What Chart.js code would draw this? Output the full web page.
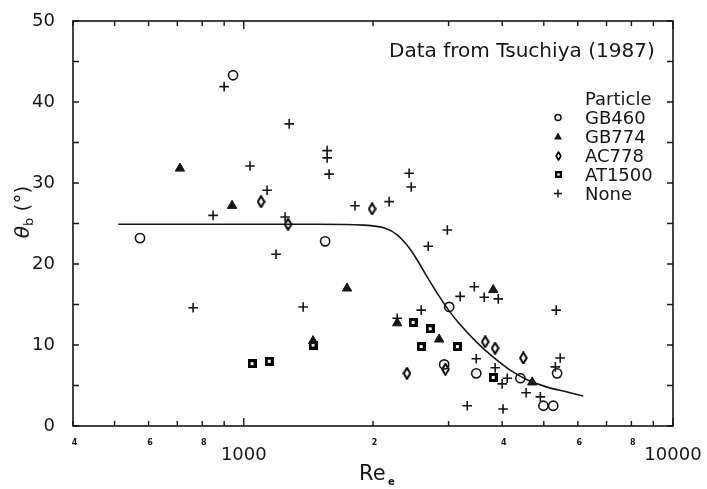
<!DOCTYPE html>
<html>
<head>
<meta charset="utf-8">
<script src="https://cdn.jsdelivr.net/npm/chart.js@4.4.0/dist/chart.umd.min.js"></script>
<style>
  body { margin: 0; background: #fff; }
</style>
</head>
<body>
<canvas id="myChart" width="707" height="489"></canvas>
<script>
const ink = "#161616";
const font = "'DejaVu Sans', sans-serif";

// data (Re_e, theta_b in degrees)
const gb460X = [573, 944, 1547, 2930, 3010, 3480, 4410, 4990, 5260, 5370];
const gb460Y = [23.2, 43.3, 22.8, 7.6, 14.7, 6.5, 5.9, 2.5, 2.5, 6.5];

const gb774X = [710, 939, 1450, 1740, 2277, 2852, 3812, 4700];
const gb774Y = [31.8, 27.2, 10.5, 17.0, 12.7, 10.7, 16.8, 5.4];

const ac778X = [1097, 1268, 1990, 2400, 2950, 3650, 3850, 4480];
const ac778Y = [27.7, 24.9, 26.8, 6.5, 7.0, 10.4, 9.6, 8.4];

const at1500X = [1045, 1146, 1450, 2480, 2590, 2718, 3145, 3812];
const at1500Y = [7.7, 8.0, 10.0, 12.8, 9.8, 12.0, 9.8, 6.0];

const noneX = [762, 900, 1276, 1564, 1564, 1580, 1034, 1133, 848, 1248, 1816, 2181,
  2428, 2455, 2980, 2690, 1189, 1375, 2277, 2590, 3192, 3444, 3632, 3916, 5344,
  3480, 3852, 4000, 4110, 3316, 4018, 4548, 4908, 5320, 5460];
const noneY = [14.6, 41.9, 37.3, 34.0, 33.1, 31.1, 32.1, 29.1, 26.0, 25.8, 27.2, 27.7,
  31.2, 29.5, 24.2, 22.2, 21.2, 14.7, 13.3, 14.3, 16.0, 17.2, 15.9, 15.7, 14.3,
  8.3, 7.2, 5.2, 5.9, 2.5, 2.1, 4.1, 3.6, 7.3, 8.4];

// fitted curve
const curveX = [510, 900, 1500, 1900, 2136, 2277, 2402, 2535, 2674, 2822, 2992, 3158,
  3495, 3812, 4175, 4571, 5090, 5670, 6180];
const curveY = [24.9, 24.9, 24.9, 24.8, 24.4, 23.6, 22.3, 20.5, 18.4, 16.4, 14.4, 12.8,
  10.3, 8.5, 6.9, 5.7, 4.8, 4.2, 3.7];

const xTickValues = [400, 600, 800, 1000, 2000, 4000, 6000, 8000, 10000];
const xTickLabels = ["4", "6", "8", "1000", "2", "4", "6", "8", "10000"];
const xMarks = [400, 500, 600, 700, 800, 900, 1000, 2000, 3000, 4000, 5000, 6000, 7000, 8000, 9000, 10000];
const xMajor = [1000, 10000];

const legendNames = ["GB460", "GB774", "AC778", "AT1500", "None"];

function pts(xs, ys) {
  return xs.map((x, i) => ({ x, y: ys[i] }));
}

function diamondImg(w, h, lw) {
  const c = document.createElement("canvas");
  c.width = w; c.height = h;
  const g = c.getContext("2d");
  g.strokeStyle = "#000";
  g.lineWidth = lw;
  g.lineJoin = "round";
  g.beginPath();
  g.moveTo(w / 2, 1);
  g.lineTo(w - 1.2, h / 2);
  g.lineTo(w / 2, h - 1);
  g.lineTo(1.2, h / 2);
  g.closePath();
  g.stroke();
  return c;
}

function squareImg(s) {
  const c = document.createElement("canvas");
  c.width = s; c.height = s;
  const g = c.getContext("2d");
  g.fillStyle = "#000";
  g.fillRect(0, 0, s, s);
  g.fillStyle = "#fff";
  const k = s / 3;
  g.fillRect(k, k, s - 2 * k, s - 2 * k);
  return c;
}

const diamond = diamondImg(9, 13, 2);
const square = squareImg(9);
const diamondSmall = diamondImg(7, 10, 1.6);
const squareSmall = squareImg(7);

function drawText(ctx, str, x, y, f, align) {
  ctx.font = f;
  ctx.textAlign = align || "left";
  ctx.fillText(str, x, y);
}

const decorations = {
  id: "decorations",
  afterDraw(chart) {
    const { ctx, chartArea: a } = chart;
    const xs = chart.scales.x;
    const ys = chart.scales.y;
    ctx.save();
    ctx.strokeStyle = ink;
    ctx.fillStyle = ink;
    ctx.lineWidth = 1.6;
    ctx.strokeRect(a.left, a.top, a.right - a.left, a.bottom - a.top);

    ctx.lineWidth = 1.4;
    ctx.beginPath();
    xMarks.forEach(v => {
      const px = xs.getPixelForValue(v);
      const len = xMajor.includes(v) ? 8 : 5;
      ctx.moveTo(px, a.bottom); ctx.lineTo(px, a.bottom - len);
      ctx.moveTo(px, a.top); ctx.lineTo(px, a.top + len);
    });
    ys.ticks.forEach(t => {
      const py = ys.getPixelForValue(t.value);
      ctx.moveTo(a.left, py); ctx.lineTo(a.left + 6, py);
      ctx.moveTo(a.right, py); ctx.lineTo(a.right - 6, py);
    });
    ctx.stroke();

    // x tick labels
    ctx.textBaseline = "alphabetic";
    xTickValues.forEach((v, i) => {
      const px = xs.getPixelForValue(v);
      if (xMajor.includes(v)) {
        drawText(ctx, xTickLabels[i], px, a.bottom + 34, "18px " + font, "center");
      } else {
        drawText(ctx, xTickLabels[i], px + 1.5, a.bottom + 19, "bold 8px " + font, "center");
      }
    });

    // x title
    drawText(ctx, "Re", 359, 480, "21px " + font);
    drawText(ctx, "e", 388, 485, "bold 10px " + font);

    // y title
    ctx.save();
    ctx.translate(29, 212);
    ctx.rotate(-Math.PI / 2);
    const f1 = "italic 20px " + font, f2 = "13px " + font, f3 = "20px " + font;
    ctx.font = f1; const w1 = ctx.measureText("\u03b8").width;
    ctx.font = f2; const w2 = ctx.measureText("b").width;
    ctx.font = f3; const w3 = ctx.measureText(" (\u00b0)").width;
    let sx = -(w1 + w2 + w3) / 2;
    drawText(ctx, "\u03b8", sx, 0, f1); sx += w1;
    drawText(ctx, "b", sx, 4, f2); sx += w2;
    drawText(ctx, " (\u00b0)", sx, 0, f3);
    ctx.restore();

    // annotation
    ctx.font = "19px " + font;
    const note = "Data from Tsuchiya (1987)";
    const size = 19 * 266 / ctx.measureText(note).width;
    drawText(ctx, note, 389, 57, size.toFixed(2) + "px " + font);

    // legend
    drawText(ctx, "Particle", 585, 105, "18px " + font);
    const lx = 558;
    legendNames.forEach((name, i) => {
      const base = 124 + i * 19;
      const cy = base - 6.5;
      drawText(ctx, name, 585, base, "18px " + font);
      ctx.lineWidth = 1.5;
      if (i === 0) {
        ctx.beginPath(); ctx.arc(lx, cy, 3, 0, Math.PI * 2); ctx.stroke();
      } else if (i === 1) {
        ctx.beginPath(); ctx.moveTo(lx, cy - 4); ctx.lineTo(lx + 4, cy + 3); ctx.lineTo(lx - 4, cy + 3); ctx.closePath(); ctx.fill();
      } else if (i === 2) {
        ctx.drawImage(diamondSmall, Math.round(lx - 3.5), Math.round(cy - 5));
      } else if (i === 3) {
        ctx.drawImage(squareSmall, Math.round(lx - 3.5), Math.round(cy - 3.5));
      } else {
        ctx.beginPath();
        ctx.moveTo(lx - 4, cy); ctx.lineTo(lx + 4, cy);
        ctx.moveTo(lx, cy - 4); ctx.lineTo(lx, cy + 4);
        ctx.stroke();
      }
    });
    ctx.restore();
  }
};

const config = {
  type: "scatter",
  data: {
    datasets: [
      {
        label: "curve",
        data: pts(curveX, curveY),
        showLine: true,
        borderColor: ink,
        borderWidth: 1.6,
        pointRadius: 0,
        cubicInterpolationMode: "monotone",
      },
      {
        label: "GB460",
        data: pts(gb460X, gb460Y),
        pointStyle: "circle",
        pointRadius: 4.6,
        borderWidth: 1.6,
        borderColor: ink,
        backgroundColor: "rgba(255,255,255,0)",
      },
      {
        label: "GB774",
        data: pts(gb774X, gb774Y),
        pointStyle: "triangle",
        pointRadius: 5.4,
        borderWidth: 1,
        borderColor: ink,
        backgroundColor: ink,
      },
      {
        label: "AC778",
        data: pts(ac778X, ac778Y),
        pointStyle: diamond,
      },
      {
        label: "AT1500",
        data: pts(at1500X, at1500Y),
        pointStyle: square,
      },
      {
        label: "None",
        data: pts(noneX, noneY),
        pointStyle: "cross",
        pointRadius: 4.8,
        borderWidth: 1.6,
        borderColor: ink,
      },
    ],
  },
  options: {
    responsive: false,
    animation: false,
    layout: { padding: { left: 0, right: 34, top: 21, bottom: 63 } },
    plugins: {
      legend: { display: false },
      tooltip: { enabled: false },
    },
    scales: {
      x: {
        type: "logarithmic",
        min: 400,
        max: 10000,
        grid: { display: false },
        border: { display: false },
        ticks: { display: false },
        afterBuildTicks: (scale) => {
          scale.ticks = xMarks.map(v => ({ value: v }));
        },
        afterFit: (scale) => { scale.height = 0; },
      },
      y: {
        min: 0,
        max: 50,
        grid: { display: false },
        border: { display: false },
        ticks: {
          stepSize: 5,
          padding: 10,
          color: ink,
          font: { family: font, size: 18 },
          callback: (v) => (v % 10 === 0 ? v : ""),
        },
        afterFit: (scale) => { scale.width = 73; },
      },
    },
  },
  plugins: [decorations],
};

new Chart(document.getElementById("myChart"), config);
</script>
</body>
</html>
